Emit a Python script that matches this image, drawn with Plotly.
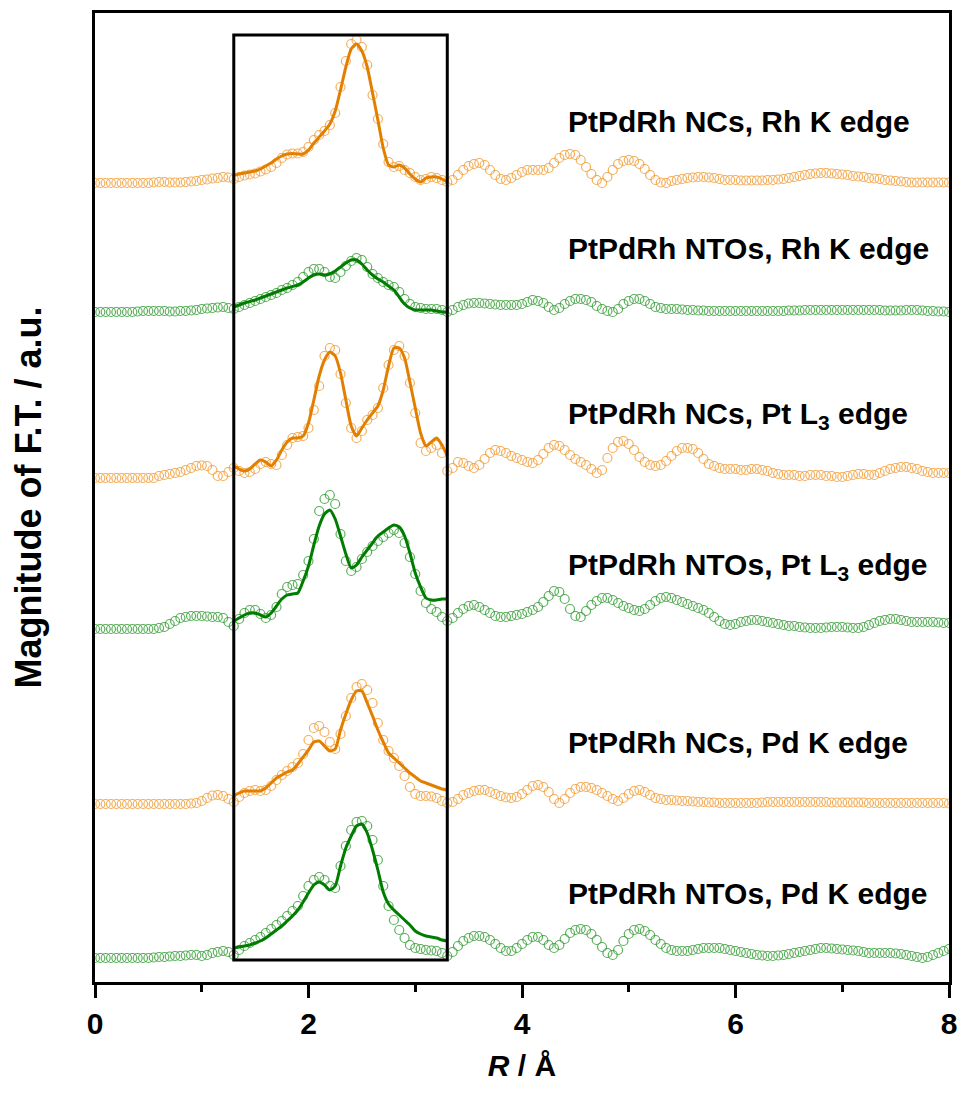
import numpy as np
import plotly.graph_objects as go

# R grids (Å)
r_data = np.round(np.arange(0, 8.0001, 0.05), 2)
r_fit = np.round(np.arange(1.3, 3.3001, 0.05), 2)

# Magnitudes (arbitrary units, above each curve's own baseline)
rh_ncs = [0,0,0,0,0,0,0,0,0,0, 0,0.5,1,1,0.5,0.5,0.5,1,1.5,2,
          3,3.5,4.5,5,6,5.5,4,6,7.5,8.5, 9.5,11.5,13.5,16,20,25,28.5,29.5,29.5,31,
          36,43,48,52,58,70,96,122,139,143, 136,118,88,64,39,21,16,17,13,10,
          6,3,4,6,5,3,1,3,8,13, 17,19,20,18,13,8,4,3,5,8,
          11,13,13,13,13,15,20,25,28,29, 28,23,16,9,3,0,6,13,19,22,
          23,22,19,14,8,3,0.5,0,2,3, 4,5,5.5,6,6,5.5,5,4,3,3,
          3,2.5,2.5,2.5,2.5,2.5,3,3,3.5,4, 5,6,7,8,9,9.5,10,10,9.5,9,
          8.5,8,7,6.5,6,5,4.5,4,3,2.5, 2,1.5,1,0.5,0.5,0.5,0.5,0.5,0.5,0.5, 0.5]
rh_ntos = [0,0,0,0,0,0,0,0,0.5,1, 1,1,1,1,0.5,0.5,1,1,1.5,2,
           3,3.5,4,4.5,5,4,3,5,7,9, 11,13,15,17,19,22,24,27,30,35,
           40,43,43,40,35,34,40,46,51,54, 52,45,38,34,30,27,25,20,13,8,
           5,4,3,3,3,2,0,2,5,7, 8.5,9,9,8.5,8,7.5,7,7,7,7,
           8,10,12,11,9,5,2,4,8,11, 13,13,12,10,6,3,1,0,3,8,
           11,13,13,11,8,5,4,3,3,3, 2.5,2,2,1.5,1.5,1,1,1,1,1,
           1,1,1,1,1,1,1,1,1,1, 1.5,1.5,1.5,2,2,2,2,2,2,2,
           2,2,2,2,2,2,2,2,1.5,1.5, 1.5,1.5,2,2,2,1.5,1,1,0.5,0.5, 0]
pt_ncs = [0,0,0,0,0,0,0,0,0,0, 0,0,2,3,4,5,6,8,10,12,
          12.5,12,8,2,2,6,10,7,5,6, 9,14,16,14,13,23,33,40,41,42,
          50,68,92,122,130,128,104,75,50,40, 47,58,63,70,90,113,128,132,122,95,
          65,35,27,30,33,25,7,10,16,15, 12,10,13,19,25,28,27,25,22,20,
          18,16,15,18,24,30,33,32,28,23, 19,16,13,9,5,8,20,30,36,37,
          34,28,21,16,13,12,13,17,22,27, 30,30,29,25,19,14,12,10,9,9,
          9,8,8,9,9,8,7,5,4,3, 3,3,2,2,3,3,3,2,2,1,
          1,2,3,4,4,3,3,5,7,9, 10,11,11,10,9,7,6,5,5,5, 5]
pt_ntos = [0,0,0,0,0,0,0,0,0,0, 0,0,1,2,5,8,11,12,13,13,
           13,12.5,12,12,11,7,3,10,16,19, 19,15,11,14,22,35,42,44,45,54,
           68,90,118,130,134,125,95,68,58,62, 70,77,83,88,92,96,99,96,86,72,
           55,38,26,20,17,12,8,11,16,20, 23,24,22,19,16,13,12,12,13,14,
           15,17,19,22,27,33,38,37,30,20, 13,12,18,24,28,31,31,29,26,23,
           21,19,18,20,24,28,31,32,31,29, 27,25,23,21,19,16,12,8,5,4,
           5,7,8,9,9,8,7,6,5,4, 3,3,2,1.5,1,1,1,1.5,2,2,
           2,1.5,1,1,2,4,6,8,9,10, 10,9,8,7,7,7,7,7,6.5,6, 6]
pd_ncs = [0,0,0,0,0,0,0,0,0,0, 0,0,0,0,0,0,0,0,0.5,1,
          3,6,8.5,9,8,5,2,7,11,13, 14,13,14,18,24,29,33,37,41,50,
          64,76,78,72,62,55,70,88,106,117, 120,114,101,81,64,53,46,38,28,17,
          10,8,8,7.5,6,3,1,2,5,9, 11,13,14,14,12,10,8,6.5,6,7,
          10,14,18,19,17,12,5,1,5,11, 15,17,17,16,14,11,8,5,3,6,
          10,13,14,12,9,6,5,4,4,3.5, 3,3,2.5,2,2,1.5,1.5,1,1,1,
          1,1,1,1,1,1.5,2,2,2,2, 2,2,2,2,2,2,2,2,1.5,1.5,
          1.5,1.5,1.5,1.5,1.5,1,1,1,1,1, 1,1,1,1,1,1,1,1,1,1, 0.5]
pd_ntos = [0,0,0,0,0,0,0,0,0,0, 0,0.5,1,1,1.5,2,2,2.5,3,3,
           2,3,5,6,7,6,3,8,12,15, 18,21,25,29,33,37,42,47,52,62,
           72,78,81,78,72,70,92,112,128,136, 137,132,118,98,72,52,38,28,20,13,
           10,9,8,7.5,7,5,2,6,12,17, 20,22,22,21,18,14,10,7,7,10,
           14,18,21,21,18,13,10,13,19,25, 28,29,28,24,18,11,5,3,8,17,
           24,28,29,27,23,18,14,10,8,7, 7,7,8,9,10,10,10,10,9,8,
           7,6,5,4,3,2.5,2,2,2.5,3, 4,5,6,7,8,9,10,10,9.5,9,
           8.5,8,7.5,7,6,5,5,5,5,5, 4.5,4,3,2,1,0,1,3,5,7, 9]

# Fits (R = 1.3 ... 3.3)
fit_rh_ncs = [7.6,9,10,11,12,14,17,20,24,27, 29,29.5,29,29,33,40,46,52,59,72,
              93,116,134,139,132,116,90,63,35,18, 16,18,15,9,4,1,5,6,6,4, 1]
fit_rh_ntos = [5,7,9,10.5,12,14,16,18,20,22, 24,25.5,27,30,34,37,38,37,38,41,
               45,49,52,52,48,42,37,33,30,26, 22,15,8,4,2,2,2,2,1,0, 0]
fit_pt_ncs = [12,9,7,9,14,18,16,12,18,28, 36,40,40,42,55,78,102,118,126,122,
              105,78,52,42,50,58,65,72,88,112, 130,130,120,96,70,45,32,36,40,33, 22]
fit_pt_ntos = [8,11,14,16,16,14,12,16,23,30, 34,35,36,48,63,84,103,115,119,110,
               93,75,61,64,72,79,86,93,97,101, 104,102,93,76,56,42,31,29,29,30, 30]
fit_pd_ncs = [8,11,13,13,13,13,16,21,26,29, 32,34,40,47,54,62,63,58,53,55,
              74,90,104,113,113,101,88,74,62,51, 46,41,36,31,27,23,21,19,17,15, 14]
fit_pd_ntos = [10,11,12,13,15,17,20,24,28,32, 37,42,48,56,65,73,76,73,68,72,
               92,110,122,132,134,125,108,88,66,54, 48,43,38,33,27,24,22,21,20,18, 17]

labels = ["PtPdRh NCs, Rh K edge", "PtPdRh NTOs, Rh K edge",
          "PtPdRh NCs, Pt L<sub>3</sub> edge", "PtPdRh NTOs, Pt L<sub>3</sub> edge",
          "PtPdRh NCs, Pd K edge", "PtPdRh NTOs, Pd K edge"]
offsets = [799, 670, 504, 353, 178, 24]

data_sets = [rh_ncs, rh_ntos, pt_ncs, pt_ntos, pd_ncs, pd_ntos]
fit_sets = [fit_rh_ncs, fit_rh_ntos, fit_pt_ncs, fit_pt_ntos, fit_pd_ncs, fit_pd_ntos]

ORANGE_M = "rgba(242,160,60,0.85)"
ORANGE_L = "#E37F00"
GREEN_M = "rgba(50,155,50,0.8)"
GREEN_L = "#007D00"

fig = go.Figure()
for i, (d, f, off) in enumerate(zip(data_sets, fit_sets, offsets)):
    mc = ORANGE_M if i % 2 == 0 else GREEN_M
    lc = ORANGE_L if i % 2 == 0 else GREEN_L
    fig.add_trace(go.Scatter(x=r_data, y=np.array(d) + off, mode="markers",
                             marker=dict(symbol="circle-open", size=9, color=mc,
                                         line=dict(width=1.2, color=mc)),
                             showlegend=False, hoverinfo="skip"))
    fig.add_trace(go.Scatter(x=r_fit, y=np.array(f) + off, mode="lines",
                             line=dict(color=lc, width=3, shape="spline", smoothing=0.6),
                             showlegend=False, hoverinfo="skip"))

label_y = [861, 734, 567, 416, 240, 89]
for lab, ly in zip(labels, label_y):
    fig.add_annotation(x=4.416, y=ly, xref="x", yref="y", text=lab, showarrow=False,
                       xanchor="left", yanchor="middle",
                       font=dict(family="Arial, Liberation Sans, sans-serif", size=30,
                                 color="black", weight="bold"))

fig.add_shape(type="rect", xref="x", yref="y", x0=1.3, x1=3.3, y0=22, y1=947,
              line=dict(color="black", width=3), layer="above")

# page body has an 8px default margin; figure sized so the page does not scroll
fig.update_layout(
    width=949, height=1074,
    margin=dict(l=87, r=8, t=5, b=100),
    paper_bgcolor="white", plot_bgcolor="white",
    font=dict(family="Arial, Liberation Sans, sans-serif", color="black"),
    xaxis=dict(range=[0, 8], tickvals=[0, 2, 4, 6, 8], ticks="outside", ticklen=13,
               tickwidth=2.5, tickcolor="black", showline=True, linewidth=2.5,
               linecolor="black", mirror=True, showgrid=False, zeroline=False,
               ticklabeloverflow="allow", automargin=False,
               tickfont=dict(size=30, weight="bold", color="black"),
               minor=dict(tickvals=[1, 3, 5, 7], ticks="outside", ticklen=7,
                          tickwidth=2.5, tickcolor="black", showgrid=False),
               title=dict(text="<i>R</i> / Å", standoff=20,
                          font=dict(size=30, weight="bold", color="black"))),
    yaxis=dict(range=[0, 969], showticklabels=False, ticks="", showline=True,
               linewidth=2.5, linecolor="black", mirror=True, showgrid=False,
               zeroline=False, automargin=False,
               title=dict(text="Magnitude of F.T. / a.u.", standoff=42,
                          font=dict(size=36, weight="bold", color="black"))),
)

fig.write_html("out.html")
